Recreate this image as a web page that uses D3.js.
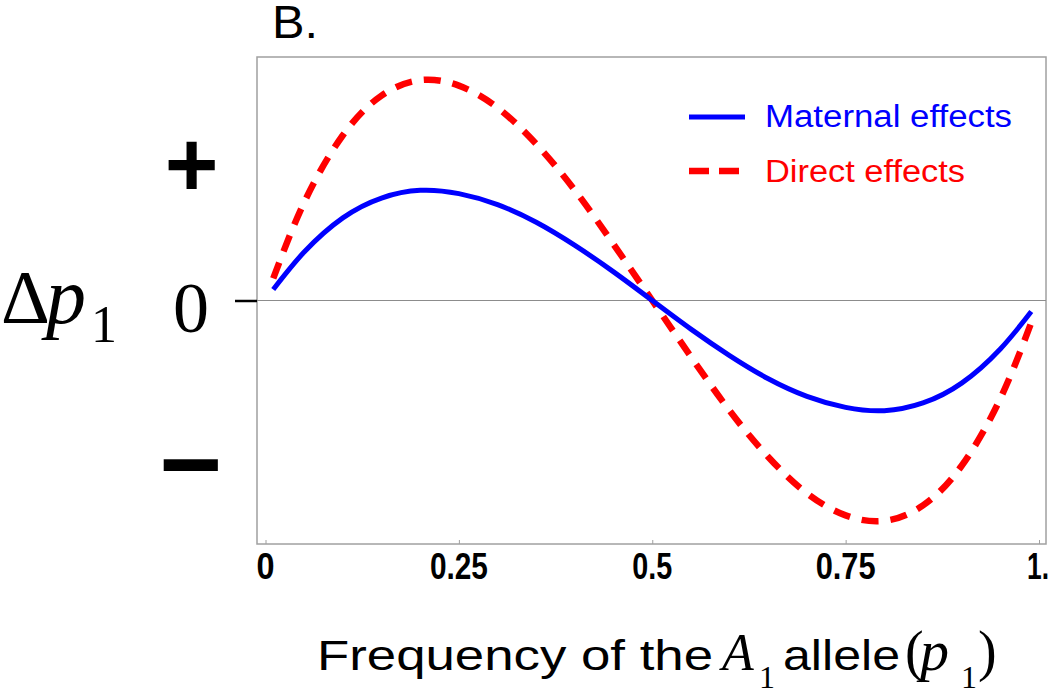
<!DOCTYPE html>
<html>
<head>
<meta charset="utf-8">
<script src="https://cdn.jsdelivr.net/npm/d3@7"></script>
<style>
  html, body { margin: 0; padding: 0; background: #fff; }
  svg { display: block; }
</style>
</head>
<body>
<svg id="chart" width="1050" height="691"></svg>
<script>
// ---- data (arbitrary units, maternal peak ≈ 1) ----
const pValues = [0.01, 0.05, 0.10, 0.15, 0.20, 0.25, 0.30, 0.35, 0.40, 0.45, 0.50,
                 0.55, 0.60, 0.65, 0.70, 0.75, 0.80, 0.85, 0.90, 0.95, 0.99];
const maternal = [0.10, 0.44, 0.75, 0.93, 1.00, 0.97, 0.87, 0.71, 0.50, 0.26, 0.00,
                  -0.26, -0.50, -0.71, -0.87, -0.97, -1.00, -0.93, -0.75, -0.44, -0.10];
const direct   = [0.20, 0.89, 1.50, 1.86, 2.00, 1.95, 1.75, 1.42, 1.00, 0.51, 0.00,
                  -0.51, -1.00, -1.42, -1.75, -1.95, -2.00, -1.86, -1.50, -0.89, -0.20];
const xTicks = [0, 0.25, 0.5, 0.75, 1];
const xTickLabels = ["0", "0.25", "0.5", "0.75", "1."];
const yMarks = [1.26, 0, -1.51];
const yMarkLabels = ["+", "0", "\u2212"];
const seriesNames = ["Maternal effects", "Direct effects"];
const seriesColors = ["#0000ff", "#ff0000"];

const svg = d3.select("#chart");
const frame = {left: 257, right: 1046, top: 57, bottom: 544};

const x = d3.scaleLinear().domain([0, 1]).range([265.5, 1039]);
const y = d3.scaleLinear().domain([-2.21, 2.21]).range([frame.bottom, frame.top]);

// frame
svg.append("rect")
  .attr("x", frame.left).attr("y", frame.top)
  .attr("width", frame.right - frame.left).attr("height", frame.bottom - frame.top)
  .attr("fill", "none").attr("stroke", "#a0a0a0").attr("stroke-width", 1.5);

// zero line
svg.append("line")
  .attr("x1", frame.left).attr("x2", frame.right)
  .attr("y1", y(0)).attr("y2", y(0))
  .attr("stroke", "#8c8c8c").attr("stroke-width", 1.2);

// bottom minor ticks (inside the frame)
const xAxis = d3.axisBottom(x).tickValues(xTicks).tickSize(-4).tickFormat("");
const gx = svg.append("g").attr("transform", `translate(0,${frame.bottom})`).call(xAxis);
gx.select(".domain").remove();
gx.selectAll(".tick line").attr("stroke", "#a0a0a0").attr("stroke-width", 1);

// x tick labels
const labelWidths = {"0": 18, "0.25": 58, "0.5": 40, "0.75": 60, "1.": 22};
svg.append("g").selectAll("text").data(xTicks).join("text")
  .attr("x", (d, i) => Math.min(x(d) - labelWidths[xTickLabels[i]] / 2, 1027))
  .attr("y", 579)
  .attr("font-family", "Liberation Sans, Arial, sans-serif")
  .attr("font-weight", "bold")
  .attr("font-size", 37)
  .attr("textLength", (d, i) => labelWidths[xTickLabels[i]])
  .attr("lengthAdjust", "spacingAndGlyphs")
  .text((d, i) => xTickLabels[i]);

// y tick at zero (outside)
const yAxis = d3.axisLeft(y).tickValues([0]).tickSize(22).tickFormat("");
const gy = svg.append("g").attr("transform", `translate(${frame.left},0)`).call(yAxis);
gy.select(".domain").remove();
gy.selectAll(".tick line").attr("stroke", "#000").attr("stroke-width", 2.5);

// y mark labels (+, 0, −)
const markG = svg.append("g");
yMarks.forEach((v, i) => {
  const lab = yMarkLabels[i];
  if (lab === "0") {
    markG.append("text").attr("x", 191).attr("y", y(v) + 31)
      .attr("text-anchor", "middle")
      .attr("font-family", "Liberation Serif, Times New Roman, serif")
      .attr("font-size", 72).text(lab);
  } else if (lab === "+") {
    markG.append("text").attr("x", 191.5).attr("y", y(v) + 34)
      .attr("text-anchor", "middle")
      .attr("font-family", "Liberation Sans, Arial, sans-serif")
      .attr("font-weight", "bold")
      .attr("font-size", 92).text(lab);
  } else {
    markG.append("text").attr("x", 190.5).attr("y", y(v) + 34)
      .attr("text-anchor", "middle")
      .attr("font-family", "Liberation Sans, Arial, sans-serif")
      .attr("font-weight", "bold")
      .attr("font-size", 108).text(lab);
  }
});

// Δp1 label
const serif = "Liberation Serif, Times New Roman, serif";
svg.append("text").attr("x", 1).attr("y", 323).attr("font-family", serif)
  .attr("font-size", 76).text("\u0394");
svg.append("text").attr("x", 46).attr("y", 323).attr("font-family", serif)
  .attr("font-style", "italic").attr("font-size", 80).text("p");
svg.append("text").attr("x", 91).attr("y", 342).attr("font-family", serif)
  .attr("font-size", 52).text("1");

// panel label
svg.append("text").attr("x", 272).attr("y", 38)
  .attr("font-family", "Liberation Sans, Arial, sans-serif")
  .attr("font-size", 46).attr("textLength", 46).attr("lengthAdjust", "spacingAndGlyphs")
  .text("B.");

// curves
const line = d3.line().x((d, i) => x(pValues[i])).y(d => y(d)).curve(d3.curveNatural);
svg.append("path").datum(direct)
  .attr("d", line).attr("fill", "none")
  .attr("stroke", seriesColors[1]).attr("stroke-width", 6.5)
  .attr("stroke-dasharray", "17,12");
svg.append("path").datum(maternal)
  .attr("d", line).attr("fill", "none")
  .attr("stroke", seriesColors[0]).attr("stroke-width", 5);

// legend
const legY = [117, 171];
const legTextY = [127, 182];
const legLen = [247, 200];
seriesNames.forEach((name, i) => {
  svg.append("line").attr("x1", 689).attr("x2", 745).attr("y1", legY[i]).attr("y2", legY[i])
    .attr("stroke", seriesColors[i]).attr("stroke-width", i === 0 ? 5 : 6.5)
    .attr("stroke-dasharray", i === 0 ? null : "20,10");
  svg.append("text").attr("x", 765).attr("y", legTextY[i])
    .attr("font-family", "Liberation Sans, Arial, sans-serif")
    .attr("font-size", 31).attr("fill", seriesColors[i])
    .attr("textLength", legLen[i]).attr("lengthAdjust", "spacingAndGlyphs")
    .text(name);
});

// x axis title
const sans = "Liberation Sans, Arial, sans-serif";
const tg = svg.append("g");
tg.append("text").attr("x", 317).attr("y", 670).attr("font-family", sans).attr("font-size", 43)
  .attr("textLength", 396).attr("lengthAdjust", "spacingAndGlyphs").text("Frequency of the");
tg.append("text").attr("x", 722).attr("y", 670).attr("font-family", serif).attr("font-style", "italic")
  .attr("font-size", 52).text("A");
tg.append("text").attr("x", 759).attr("y", 688).attr("font-family", serif)
  .attr("font-size", 32).text("1");
tg.append("text").attr("x", 783).attr("y", 670).attr("font-family", sans).attr("font-size", 43)
  .attr("textLength", 117).attr("lengthAdjust", "spacingAndGlyphs").text("allele");
tg.append("text").attr("x", 905).attr("y", 670).attr("font-family", serif)
  .attr("font-size", 56).text("(");
tg.append("text").attr("x", 920).attr("y", 670).attr("font-family", serif).attr("font-style", "italic")
  .attr("font-size", 58).text("p");
tg.append("text").attr("x", 961).attr("y", 688).attr("font-family", serif)
  .attr("font-size", 32).text("1");
tg.append("text").attr("x", 978).attr("y", 670).attr("font-family", serif)
  .attr("font-size", 56).text(")");
</script>
</body>
</html>
